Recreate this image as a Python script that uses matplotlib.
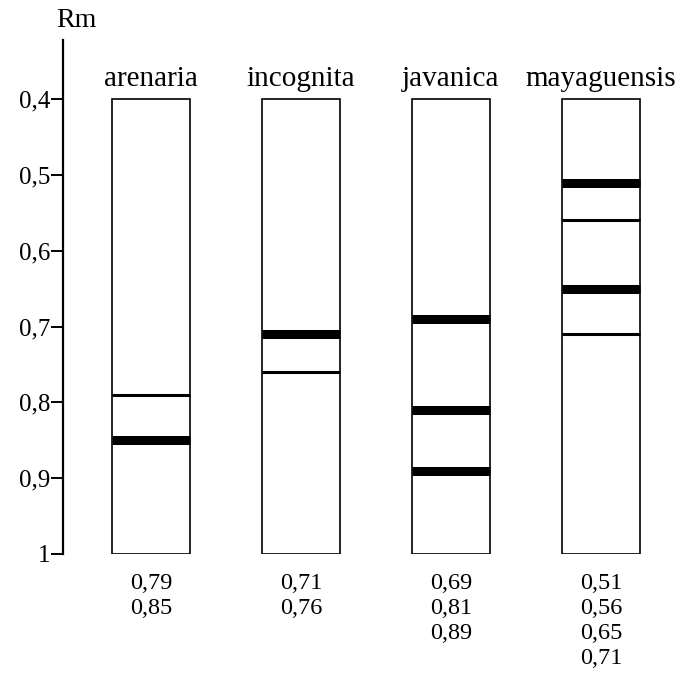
import matplotlib.pyplot as plt
from matplotlib.patches import Rectangle

plt.rcParams['font.family'] = ['Liberation Serif', 'DejaVu Serif']

# Rm values of the bands for each species
species = ['arenaria', 'incognita', 'javanica', 'mayaguensis']
rm_values = [
    [0.79, 0.85],
    [0.71, 0.76],
    [0.69, 0.81, 0.89],
    [0.51, 0.56, 0.65, 0.71],
]
# True = heavy band, False = faint band
heavy = [
    [False, True],
    [True, False],
    [True, True, True],
    [True, False, True, False],
]
yticks = [0.4, 0.5, 0.6, 0.7, 0.8, 0.9, 1.0]
ytick_labels = ['0,4', '0,5', '0,6', '0,7', '0,8', '0,9', '1']

fig = plt.figure(figsize=(6.84, 6.8), dpi=100)
ax = fig.add_axes([63 / 684, 126 / 680, 621 / 684, 514 / 680])
ax.set_xlim(0.413, 4.553)
ax.set_ylim(1.0, 0.322)

for s in ['top', 'right', 'bottom']:
    ax.spines[s].set_visible(False)
ax.spines['left'].set_linewidth(1.6)
ax.set_xticks([])
ax.set_yticks(yticks)
ax.set_yticklabels(ytick_labels, fontsize=18)
ax.tick_params(axis='y', direction='out', length=9, width=1.4, pad=0)

lane_w = 0.52
for i, name in enumerate(species):
    x = i + 1
    ax.add_patch(Rectangle((x - lane_w / 2, 0.4), lane_w, 0.6,
                           fill=False, edgecolor='black', linewidth=1.2))
    for v, h in zip(rm_values[i], heavy[i]):
        ax.hlines(v, x - lane_w / 2, x + lane_w / 2, colors='black',
                  linewidth=6.5 if h else 2.2)
    ax.text(x, 0.374, name, ha='center', va='center', fontsize=21)
    for k, v in enumerate(rm_values[i]):
        ax.text(x, 1.039 + k * 0.033, ('%.2f' % v).replace('.', ','),
                ha='center', va='center', fontsize=17.5, clip_on=False)

ax.text(0.5, 0.296, 'Rm', ha='center', va='center', fontsize=20,
        clip_on=False)

fig.savefig('out.png', dpi=100)
